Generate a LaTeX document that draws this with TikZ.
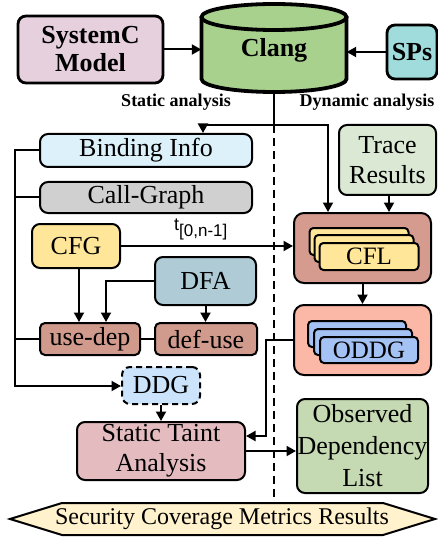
\documentclass[tikz,border=0pt]{standalone}
\usepackage{fontspec}
\setmainfont{Liberation Serif}
\newfontfamily\arialf{Liberation Sans}
\usetikzlibrary{arrows.meta,calc}
\definecolor{csysc}{HTML}{E6D0DE}
\definecolor{cclang}{HTML}{A9D18E}
\definecolor{csps}{HTML}{A0DCDC}
\definecolor{cbind}{HTML}{DDF1FB}
\definecolor{ccall}{HTML}{D0D0D0}
\definecolor{ccfg}{HTML}{FFE699}
\definecolor{cdfa}{HTML}{AECBD6}
\definecolor{ctrace}{HTML}{DAE8D4}
\definecolor{ccfl}{HTML}{D69B8F}
\definecolor{coddg}{HTML}{FBB8A6}
\definecolor{coddgin}{HTML}{A4C2F4}
\definecolor{cdep}{HTML}{D09A8C}
\definecolor{cddg}{HTML}{CCE4FB}
\definecolor{csta}{HTML}{E4BCC0}
\definecolor{cobs}{HTML}{C5D9B2}
\definecolor{cscm}{HTML}{FFF2CC}
\tikzset{
  box/.style={draw, line width=2pt, rounded corners=8pt, align=center, inner sep=0pt,
    font=\fontsize{26}{30}\selectfont},
  bbox/.style={box, line width=2.8pt, font=\fontsize{26}{28}\selectfont\bfseries},
  stk/.style={draw, line width=2pt, rounded corners=4pt, minimum width=99pt, minimum height=27pt,
    inner sep=0pt, font=\fontsize{25}{27}\selectfont},
  ln/.style={line width=2pt},
  arr/.style={line width=2pt, -{Triangle[length=9.5pt,width=10pt]}},
  lbl/.style={font=\fontsize{18}{20}\selectfont\bfseries, inner sep=0pt},
}
\begin{document}
\begin{tikzpicture}[x=1pt,y=-1pt]
\useasboundingbox (0,0) rectangle (437,537);
% Clang cylinder
\fill[cclang] (201.5,17) -- (201.5,79) arc[start angle=180, end angle=360, x radius=72.5pt, y radius=13pt]
  -- (346.5,17) arc[start angle=0, end angle=180, x radius=72.5pt, y radius=13pt] -- cycle;
\draw[line width=3.8pt] (201.5,17) -- (201.5,79) arc[start angle=180, end angle=360, x radius=72.5pt, y radius=13pt]
  -- (346.5,17);
\draw[line width=3.8pt, fill=cclang] (274,17) ellipse[x radius=72.5pt, y radius=13pt];
\node[minimum width=145pt, minimum height=88pt, inner sep=0pt, font=\fontsize{26}{28}\selectfont\bfseries] (clang) at (274,50) {Clang};

\node[bbox, fill=csysc, minimum width=145pt, minimum height=67pt] (sysc) at (90.5,49.5) {SystemC\\Model};
\node[bbox, fill=csps, minimum width=50pt, minimum height=54pt] (sps) at (412,52) {SPs};

\node[lbl] (stat) at (176,102) {Static analysis};
\node[lbl] (dyn) at (367,102) {Dynamic analysis};

\node[box, fill=cbind, minimum width=212pt, minimum height=33pt] (bind) at (146,150.5) {Binding Info};
\node[box, fill=ccall, minimum width=212pt, minimum height=31pt] (call) at (146,197.5) {Call-Graph};
\node[box, fill=ccfg, minimum width=88pt, minimum height=44pt] (cfg) at (76,246) {CFG};
\node[box, fill=cdfa, minimum width=101pt, minimum height=48pt] (dfa) at (205.5,281) {DFA};
\node[box, fill=cdep, rounded corners=5pt, minimum width=100pt, minimum height=32pt] (usedep) at (90,339) {use-dep};
\node[box, fill=cdep, rounded corners=5pt, minimum width=102pt, minimum height=32pt] (defuse) at (206,339) {def-use};
\node[box, fill=cddg, dashed, dash pattern=on 6pt off 4pt, minimum width=78pt, minimum height=37pt] (ddg) at (161,385.5) {DDG};
\node[box, fill=csta, minimum width=168pt, minimum height=58pt] (sta) at (161,451) {Static Taint\\Analysis};

\node[box, fill=ctrace, minimum width=97pt, minimum height=70pt] (trace) at (387.5,160) {Trace\\Results};
\node[box, fill=ccfl, rounded corners=10pt, minimum width=137pt, minimum height=70pt] (cfl) at (362.5,248) {};
\node[stk, fill=ccfg] (cflc) at (359,241.5) {};
\node[stk, fill=ccfg] (cflb) at (364,248.5) {};
\node[stk, fill=ccfg] (cfla) at (369,256.5) {CFL};
\node[box, fill=coddg, rounded corners=10pt, minimum width=137pt, minimum height=70pt] (oddg) at (362.5,340) {};
\node[stk, fill=coddgin, minimum width=98pt, minimum height=26pt] (oddgc) at (357,334) {};
\node[stk, fill=coddgin, minimum width=98pt, minimum height=26pt] (oddgb) at (363,342) {};
\node[stk, fill=coddgin, minimum width=98pt, minimum height=26pt] (oddga) at (369,350) {ODDG};
\node[box, fill=cobs, minimum width=131pt, minimum height=94pt, font=\fontsize{26}{32}\selectfont] (obs) at (362.5,446) {Observed\\Dependency\\List};

% Security hexagon
\draw[line width=2pt, fill=cscm] (10,519) -- (62,503) -- (383,503) -- (435,519) -- (383,535) -- (62,535) -- cycle;
\node[font=\fontsize{24}{26}\selectfont, inner sep=0pt] (scm) at (222,519) {Security Coverage Metrics Results};

% connectors
\draw[arr] (sysc.east) -- (sysc.east -| clang.west);
\draw[arr] (sps.west) -- (sps.west -| clang.east);
\coordinate (split) at (274,125);
\coordinate (dashend) at (274,503);
\draw[ln] (clang.south) -- (split);
\draw[ln, dashed, dash pattern=on 8pt off 5pt] (split) -- (dashend);
\draw[arr] (split) -| ([xshift=57pt]bind.north);
\draw[arr] (split) -| ([xshift=-34.5pt]cfl.north);
\draw[arr] ([xshift=1.5pt]trace.south) -- ([xshift=1.5pt]trace.south |- cfl.north);
\draw[arr] (cfl.south) -- (oddg.north);
\draw[arr] (cfg.east) -- (cfg.east -| cfl.west);
\node[font=\arialf\fontsize{18}{20}\selectfont, inner sep=0pt, anchor=south west] (tlab) at (174,240) {t\raisebox{-6pt}{\fontsize{17}{18}\selectfont[0,n-1]}};
\draw[arr] ([xshift=3pt]cfg.south) -- ([xshift=3pt]cfg.south |- usedep.north);
\draw[arr] (dfa.west) -| ([xshift=16pt]usedep.north);
\draw[arr] (dfa.south) -- (dfa.south |- defuse.north);
\draw[ln] (usedep.east) -- (defuse.west);
\coordinate (busb) at (15,386);
\draw[arr] (bind.west) -| (busb) -- (busb -| ddg.west);
\draw[ln] (call.west) -- (call.west -| busb);
\draw[ln] (usedep.west) -- (usedep.west -| busb);
\draw[arr] (ddg.south) -- (sta.north);
\coordinate (oddgturn) at (266,340);
\draw[arr] (oddg.west) -- (oddgturn) |- ([yshift=15pt]sta.east);
\draw[arr] (sta.east) -- (sta.east -| obs.west);
\end{tikzpicture}
\end{document}
